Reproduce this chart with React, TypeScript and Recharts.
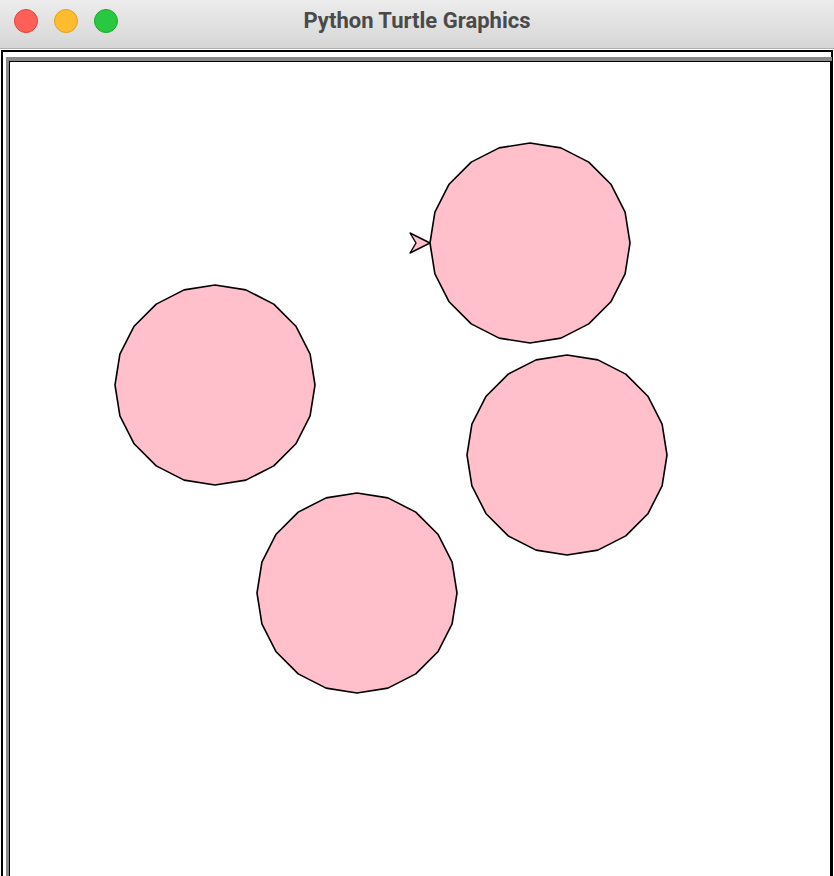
import { ScatterChart, Scatter, XAxis, YAxis } from 'recharts';

// circle centres in canvas pixels (x right, y down), radius in pixels
const circleX = [530, 215, 567, 357];
const circleY = [243, 385, 455, 593];
const circleR = [100, 100, 100, 100];
const turtle = [{ x: 430, y: 243 }];
const SIDES = 20;

const circles = circleX.map((x, i) => ({ x, y: circleY[i], r: circleR[i] }));

const W = 820;
const H = 814;
const X0 = 10;
const Y0 = 62;

/* regular 20-gon like turtle.circle draws */
const Poly = (props: any) => {
  const { cx, cy, payload } = props;
  const r = payload.r;
  const pts: string[] = [];
  for (let k = 0; k < SIDES; k++) {
    const a = (k * 2 * Math.PI) / SIDES;
    pts.push(`${cx + r * Math.cos(a)},${cy - r * Math.sin(a)}`);
  }
  return <polygon points={pts.join(' ')} fill="#ffc0cb" stroke="#000" strokeWidth={1.6} strokeLinejoin="round" />;
};

/* classic turtle arrow, tip at the point */
const Arrow = (props: any) => {
  const { cx, cy } = props;
  const p = `${cx},${cy} ${cx - 20},${cy - 10} ${cx - 14},${cy} ${cx - 20},${cy + 10}`;
  return <polygon points={p} fill="#ffc0cb" stroke="#000" strokeWidth={1.4} strokeLinejoin="round" />;
};

const Light = ({ x, c, b }: { x: number; c: string; b: string }) => (
  <div style={{ position: 'absolute', left: x - 12, top: 9, width: 24, height: 24, borderRadius: 12, background: c, boxSizing: 'border-box', border: `1px solid ${b}` }} />
);

const App = () => {
  return (
    <div style={{ position: 'fixed', left: 0, top: 0, width: 834, height: 876, overflow: 'hidden', background: '#fff' }}>
      <div style={{ position: 'absolute', left: 0, top: 0, width: 834, height: 48, background: 'linear-gradient(#ececec,#d6d6d6)', borderBottom: '1px solid #b0b0b0' }}>
        <Light x={26} c="#ff5f57" b="#e0443e" />
        <Light x={66} c="#febc2e" b="#dea123" />
        <Light x={106} c="#28c840" b="#1aab29" />
        <div style={{ position: 'absolute', left: 0, top: 0, width: 834, lineHeight: '42px', textAlign: 'center', fontFamily: 'Roboto, sans-serif', fontWeight: 'bold', fontSize: 22, color: '#4a4a4a' }}>
          Python Turtle Graphics
        </div>
      </div>
      <div style={{ position: 'absolute', left: 1, top: 50, width: 832, height: 840, border: '2px solid #000', boxSizing: 'border-box' }} />
      <div style={{ position: 'absolute', left: 6, top: 57, width: 826, height: 840, borderTop: '4px solid #8a8a8a', borderLeft: '4px solid #8a8a8a', boxSizing: 'border-box' }} />
      <div style={{ position: 'absolute', left: 9, top: 61, width: 822, height: 840, borderTop: '1px solid #000', borderLeft: '1px solid #000', borderRight: '1px solid #000', boxSizing: 'border-box' }} />
      <div style={{ position: 'absolute', left: X0, top: Y0 }}>
        <ScatterChart width={W} height={H} margin={{ top: 0, right: 0, bottom: 0, left: 0 }}>
          <XAxis type="number" dataKey="x" domain={[X0, X0 + W]} hide />
          <YAxis type="number" dataKey="y" domain={[Y0, Y0 + H]} reversed hide />
          <Scatter data={circles} shape={<Poly />} isAnimationActive={false} />
          <Scatter data={turtle} shape={<Arrow />} isAnimationActive={false} />
        </ScatterChart>
      </div>
    </div>
  );
};

export default App;
